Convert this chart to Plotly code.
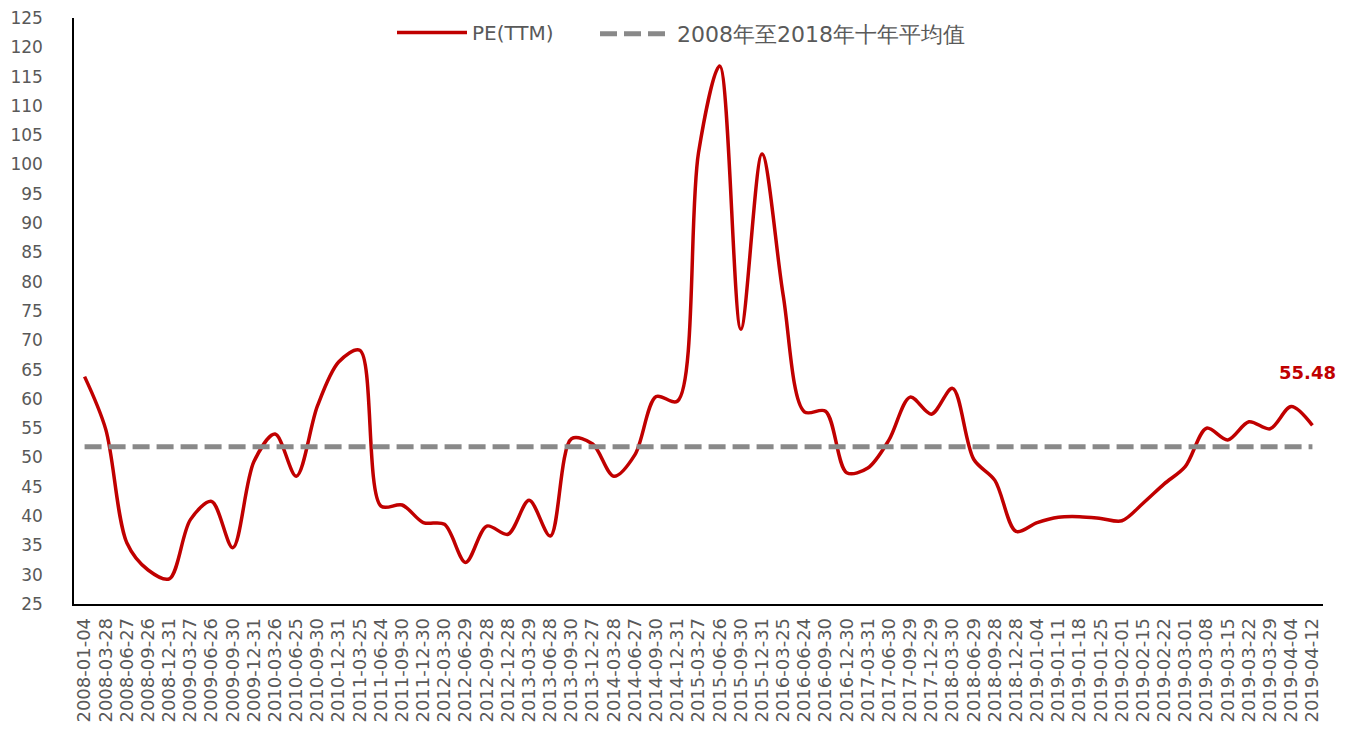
import plotly.graph_objects as go

dates = ["2008-01-04","2008-03-28","2008-06-27","2008-09-26","2008-12-31","2009-03-27","2009-06-26","2009-09-30",
         "2009-12-31","2010-03-26","2010-06-25","2010-09-30","2010-12-31","2011-03-25","2011-06-24","2011-09-30",
         "2011-12-30","2012-03-30","2012-06-29","2012-09-28","2012-12-28","2013-03-29","2013-06-28","2013-09-30",
         "2013-12-27","2014-03-28","2014-06-27","2014-09-30","2014-12-31","2015-03-27","2015-06-26","2015-09-30",
         "2015-12-31","2016-03-25","2016-06-24","2016-09-30","2016-12-30","2017-03-31","2017-06-30","2017-09-29",
         "2017-12-29","2018-03-30","2018-06-29","2018-09-28","2018-12-28","2019-01-04","2019-01-11","2019-01-18",
         "2019-01-25","2019-02-01","2019-02-15","2019-02-22","2019-03-01","2019-03-08","2019-03-15","2019-03-22",
         "2019-03-29","2019-04-04","2019-04-12"]

pe_ttm = [63.8, 54.8, 35.4, 30.8, 29.3, 39.4, 42.5, 34.6, 49.3, 54.0, 46.8, 58.8, 66.3, 68.3, 41.7, 41.9,
          38.9, 38.6, 32.1, 38.3, 36.9, 42.7, 36.6, 53.2, 52.3, 46.8, 50.5, 60.4, 59.6, 102.0, 116.8, 71.9,
          101.8, 77.7, 57.8, 57.9, 47.4, 48.2, 53.0, 60.3, 57.4, 61.8, 49.7, 46.1, 37.4, 38.9, 39.8, 39.9,
          39.6, 39.2, 42.2, 45.5, 48.5, 55.0, 53.0, 56.1, 54.9, 58.7, 55.48]

avg_10y = 51.85
avg_series = [avg_10y] * len(dates)

y_ticks = list(range(25, 126, 5))

FONT = "DejaVu Sans"
GREY = "#595959"

fig = go.Figure()
fig.add_trace(go.Scatter(
    x=dates, y=pe_ttm, name="PE(TTM)", mode="lines", legend="legend",
    line=dict(color="#C00000", width=3.5, shape="spline", smoothing=0.9),
))
fig.add_trace(go.Scatter(
    x=dates, y=avg_series, name="\u00a02008年至2018年十年平均值", mode="lines", legend="legend2",
    line=dict(color="#898989", width=5, dash="17px,7px"),
))

fig.add_annotation(
    x=dates[-1], y=pe_ttm[-1], text="<b>55.48</b>", showarrow=False,
    yshift=53, xshift=-5, font=dict(family=FONT, size=18, color="#C00000"),
)

PLOT_L = 74   # page x of plot left edge
PLOT_W = 1249
LEG_Y = 1 - 5 / 723

# page body has an 8px default margin; compensate so the plot area sits where the reference has it
fig.update_layout(
    width=1340, height=723,
    margin=dict(l=66, r=25, t=10, b=127, autoexpand=False),
    plot_bgcolor="white", paper_bgcolor="white",
    font=dict(family=FONT, size=16, color=GREY),
    showlegend=True,
    legend=dict(orientation="h", x=(392 - PLOT_L) / PLOT_W, xanchor="left",
                y=LEG_Y, yref="container", yanchor="top",
                font=dict(family=FONT, size=20, color=GREY), itemwidth=70,
                bgcolor="rgba(0,0,0,0)"),
    legend2=dict(orientation="h", x=(595 - PLOT_L) / PLOT_W, xanchor="left",
                 y=LEG_Y, yref="container", yanchor="top",
                 font=dict(family=FONT, size=22, color=GREY), itemwidth=65,
                 bgcolor="rgba(0,0,0,0)"),
    xaxis=dict(type="category", range=[-0.5, len(dates) - 0.5], showgrid=False,
               showline=True, linecolor="black", linewidth=1.5, ticks="",
               tickangle=-90, tickfont=dict(family=FONT, size=18, color=GREY),
               ticklabelstandoff=5, automargin=False, ticklabeloverflow="allow",
               tickmode="array", tickvals=dates, ticktext=dates),
    yaxis=dict(range=[25, 125], showgrid=False, zeroline=False,
               showline=True, linecolor="black", linewidth=1.5, ticks="",
               ticklabelstandoff=26, automargin=False, ticklabeloverflow="allow",
               tickmode="array", tickvals=y_ticks, ticktext=[str(v) for v in y_ticks],
               tickfont=dict(family=FONT, size=17, color=GREY)),
)

fig.write_html("out.html")
